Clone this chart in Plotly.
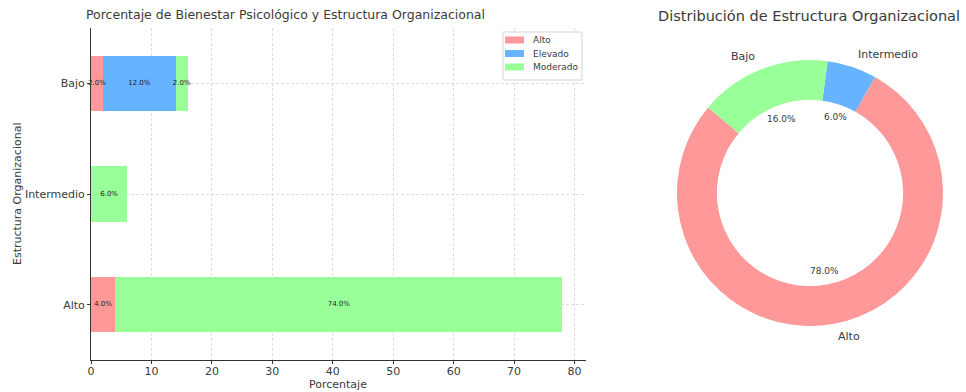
import math
import plotly.graph_objects as go

# Stacked bar data: organizational structure level vs. psychological well-being
niveles = ["Alto", "Intermedio", "Bajo"]
series_nombres = ["Alto", "Elevado", "Moderado"]
bienestar_alto = [4.0, 0.0, 2.0]
bienestar_elevado = [0.0, 0.0, 12.0]
bienestar_moderado = [74.0, 6.0, 2.0]

# Donut data: distribution of organizational structure
dona_etiquetas = ["Alto", "Intermedio", "Bajo"]
dona_valores = [78.0, 6.0, 16.0]

x_ticks = [0, 10, 20, 30, 40, 50, 60, 70, 80]

W, H = 966, 392
FONT = "DejaVu Sans"
TXT = "#3a3a3a"

colores_series = ["#ff9999", "#66b3ff", "#99ff99"]
colores_dona = ["#ff9999", "#66b3ff", "#99ff99"]

fig = go.Figure()

series_vals = [bienestar_alto, bienestar_elevado, bienestar_moderado]
for nombre, vals, color in zip(series_nombres, series_vals, colores_series):
    fig.add_trace(go.Bar(
        y=niveles, x=vals, name=nombre, orientation="h", width=0.5,
        marker=dict(color=color, line=dict(width=0)),
        hoverinfo="skip", showlegend=False,
    ))

# Segment labels drawn on top of all bars, centred in each stacked segment
lab_x, lab_y, lab_t = [], [], []
for j, nivel in enumerate(niveles):
    base = 0.0
    for vals in series_vals:
        v = vals[j]
        if v > 0:
            lab_x.append(base + v / 2)
            lab_y.append(nivel)
            lab_t.append(f"{v:.1f}%")
        base += v
fig.add_trace(go.Scatter(
    x=lab_x, y=lab_y, text=lab_t, mode="text", textposition="middle center",
    textfont=dict(size=7, color="#222222", family=FONT),
    hoverinfo="skip", showlegend=False, cliponaxis=False,
))

# Donut geometry in pixels
cx, cy_top, R = 810, 193, 133
cy = H - cy_top
start_deg = 140.0  # counter-clockwise start of the first wedge
total = sum(dona_valores)
# plotly puts the first slice clockwise of the rotation line, so place that line
# at the first slice's far edge
first_end = start_deg + 360.0 * dona_valores[0] / total
fig.add_trace(go.Pie(
    labels=dona_etiquetas, values=dona_valores, hole=0.70, sort=False,
    direction="counterclockwise", rotation=90.0 - (first_end - 360.0),
    marker=dict(colors=colores_dona, line=dict(width=0)),
    textinfo="none", showlegend=False, hoverinfo="skip",
    domain=dict(x=[(cx - R) / W, (cx + R) / W], y=[(cy - R) / H, (cy + R) / H]),
))

anns = []
shapes = []
start = start_deg
for lab, val in zip(dona_etiquetas, dona_valores):
    span = 360.0 * val / total
    mid = math.radians(start + span / 2)
    start += span
    c, s = math.cos(mid), math.sin(mid)
    lx, ly = cx + 1.1 * R * c, cy + 1.1 * R * s
    anns.append(dict(x=lx / W, y=ly / H, xref="paper", yref="paper", text=lab,
                     showarrow=False, xanchor="left" if c > 0 else "right",
                     yanchor="middle", font=dict(size=11, color=TXT, family=FONT)))
    px_, py_ = cx + 0.6 * R * c, cy + 0.6 * R * s
    anns.append(dict(x=px_ / W, y=py_ / H, xref="paper", yref="paper",
                     text=f"{100 * val / total:.1f}%", showarrow=False,
                     xanchor="center", yanchor="middle",
                     font=dict(size=9, color=TXT, family=FONT)))

# Titles
anns.append(dict(x=285 / W, y=1 - 15 / H, xref="paper", yref="paper",
                 text="Porcentaje de Bienestar Psicológico y Estructura Organizacional",
                 showarrow=False, xanchor="center", yanchor="middle",
                 font=dict(size=12.5, color=TXT, family=FONT)))
anns.append(dict(x=809 / W, y=1 - 16 / H, xref="paper", yref="paper",
                 text="Distribución de Estructura Organizacional",
                 showarrow=False, xanchor="center", yanchor="middle",
                 font=dict(size=14.5, color=TXT, family=FONT)))
# Axis titles
anns.append(dict(x=17 / W, y=1 - 194 / H, xref="paper", yref="paper",
                 text="Estructura Organizacional", textangle=-90,
                 showarrow=False, xanchor="center", yanchor="middle",
                 font=dict(size=11, color=TXT, family=FONT)))
anns.append(dict(x=338 / W, y=1 - 384 / H, xref="paper", yref="paper",
                 text="Porcentaje", showarrow=False, xanchor="center", yanchor="middle",
                 font=dict(size=11, color=TXT, family=FONT)))

# Legend box for the bar series
lg_x0, lg_x1, lg_y0, lg_y1 = 503, 582, 32, 80
shapes.append(dict(type="rect", xref="paper", yref="paper",
                   x0=lg_x0 / W, x1=lg_x1 / W, y0=1 - lg_y1 / H, y1=1 - lg_y0 / H,
                   line=dict(color="#d6d6d6", width=1), fillcolor="rgba(255,255,255,0.85)",
                   layer="above"))
for i, (nombre, color) in enumerate(zip(series_nombres, colores_series)):
    yc = 40 + 13.5 * i
    shapes.append(dict(type="rect", xref="paper", yref="paper",
                       x0=505 / W, x1=524 / W, y0=1 - (yc + 3.5) / H, y1=1 - (yc - 3.5) / H,
                       line=dict(width=0), fillcolor=color, layer="above"))
    anns.append(dict(x=531 / W, y=1 - yc / H, xref="paper", yref="paper", text=nombre,
                     showarrow=False, xanchor="left", yanchor="middle",
                     font=dict(size=9, color=TXT, family=FONT)))

fig.update_layout(
    width=W, height=H, margin=dict(l=0, r=0, t=0, b=0, autoexpand=False),
    paper_bgcolor="white", plot_bgcolor="white",
    barmode="stack", bargap=0, showlegend=False,
    font=dict(family=FONT, color=TXT),
    annotations=anns, shapes=shapes,
    xaxis=dict(domain=[91 / W, 586 / W], range=[0, 81.9], tickvals=x_ticks,
               automargin=False,
               showgrid=True, gridcolor="#dedede", griddash="3px,2px", gridwidth=1,
               showline=True, linecolor="#333333", linewidth=1, zeroline=False,
               ticks="outside", ticklen=3, tickcolor="#333333", ticklabelstandoff=-2,
               tickfont=dict(size=11, color=TXT, family=FONT)),
    yaxis=dict(domain=[32 / H, 364 / H], type="category", automargin=False,
               categoryorder="array", categoryarray=niveles, range=[-0.5, 2.5],
               showgrid=True, gridcolor="#dedede", griddash="3px,2px", gridwidth=1,
               showline=True, linecolor="#333333", linewidth=1, zeroline=False,
               ticks="outside", ticklen=3, tickcolor="#333333",
               tickfont=dict(size=11, color=TXT, family=FONT)),
)

fig.write_html("out.html")
